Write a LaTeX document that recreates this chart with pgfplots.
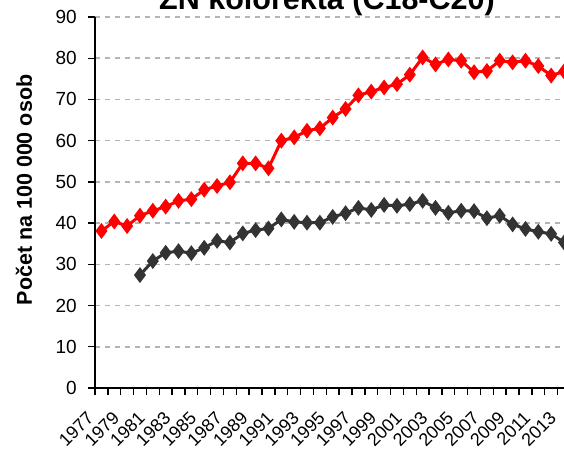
\documentclass[border=0pt]{standalone}
\usepackage{fontspec}
\setmainfont{Liberation Sans}
\usepackage{pgfplots}
\pgfplotsset{compat=1.18}
\definecolor{darkser}{HTML}{333333}
\definecolor{gridc}{HTML}{B4B4B4}
\begin{document}
\begin{tikzpicture}[x=1pt,y=1pt]
\useasboundingbox (0,0) rectangle (564,451);
\begin{axis}[
  at={(95pt,63pt)}, anchor=south west,
  scale only axis, width=469pt, height=371pt,
  xmin=1976.5, xmax=2013, ymin=0, ymax=90,
  axis x line*=bottom, axis y line*=left,
  axis line style={line width=1.6pt, black},
  ytick={0,10,...,90},
  xtick={1976.5,1977.5,...,2012.5},
  xticklabels={},
  extra x ticks={1977,1979,...,2013},
  extra x tick style={major tick length=0pt, grid=none},
  tick align=outside,
  major tick length=7pt,
  tick style={line width=1.4pt, black},
  ymajorgrids,
  grid style={gridc, line width=1.6pt, dash pattern=on 5pt off 5pt},
  /pgf/number format/assume math mode=true,
  /pgf/number format/1000 sep={},
  ticklabel style={font=\fontsize{19}{22}\selectfont, inner sep=0pt},
  yticklabel style={anchor=east, xshift=-11pt},
  xticklabel style={font=\fontsize{18}{21}\selectfont, xshift=-11pt, yshift=-27pt, rotate=45, anchor=east},
  clip=true,
]
\addplot[red, line width=3pt, mark=diamond*, mark size=5.5pt, mark options={solid}] coordinates {
(1977,38.1) (1978,40.4) (1979,39.3) (1980,41.8) (1981,43.0) (1982,44.0)
(1983,45.4) (1984,45.8) (1985,48.1) (1986,49.0) (1987,49.9) (1988,54.5)
(1989,54.5) (1990,53.3) (1991,60.0) (1992,60.8) (1993,62.4) (1994,63.0)
(1995,65.6) (1996,67.7) (1997,71.0) (1998,71.9) (1999,72.9) (2000,73.7)
(2001,76.0) (2002,80.2) (2003,78.5) (2004,79.7) (2005,79.4) (2006,76.6)
(2007,76.9) (2008,79.4) (2009,79.0) (2010,79.4) (2011,78.1) (2012,75.8)
(2013,76.8)
};
\addplot[darkser, line width=3pt, mark=diamond*, mark size=5.5pt, mark options={solid}] coordinates {
(1980,27.4) (1981,30.8) (1982,32.8) (1983,33.2) (1984,32.7) (1985,34.0)
(1986,35.7) (1987,35.3) (1988,37.5) (1989,38.3) (1990,38.7) (1991,40.9)
(1992,40.3) (1993,40.1) (1994,40.1) (1995,41.5) (1996,42.4) (1997,43.7)
(1998,43.2) (1999,44.4) (2000,44.2) (2001,44.6) (2002,45.4) (2003,43.7)
(2004,42.5) (2005,43.0) (2006,42.9) (2007,41.2) (2008,41.8) (2009,39.7)
(2010,38.6) (2011,37.9) (2012,37.4) (2013,35.3)
};
\end{axis}
\node[font=\bfseries\fontsize{30.5}{36}\selectfont, anchor=base] at (327,441) {ZN kolorekta (C18-C20)};
\node[font=\bfseries\fontsize{21.5}{25}\selectfont, rotate=90, anchor=center] at (24,261) {Počet na 100 000 osob};
\end{tikzpicture}
\end{document}
